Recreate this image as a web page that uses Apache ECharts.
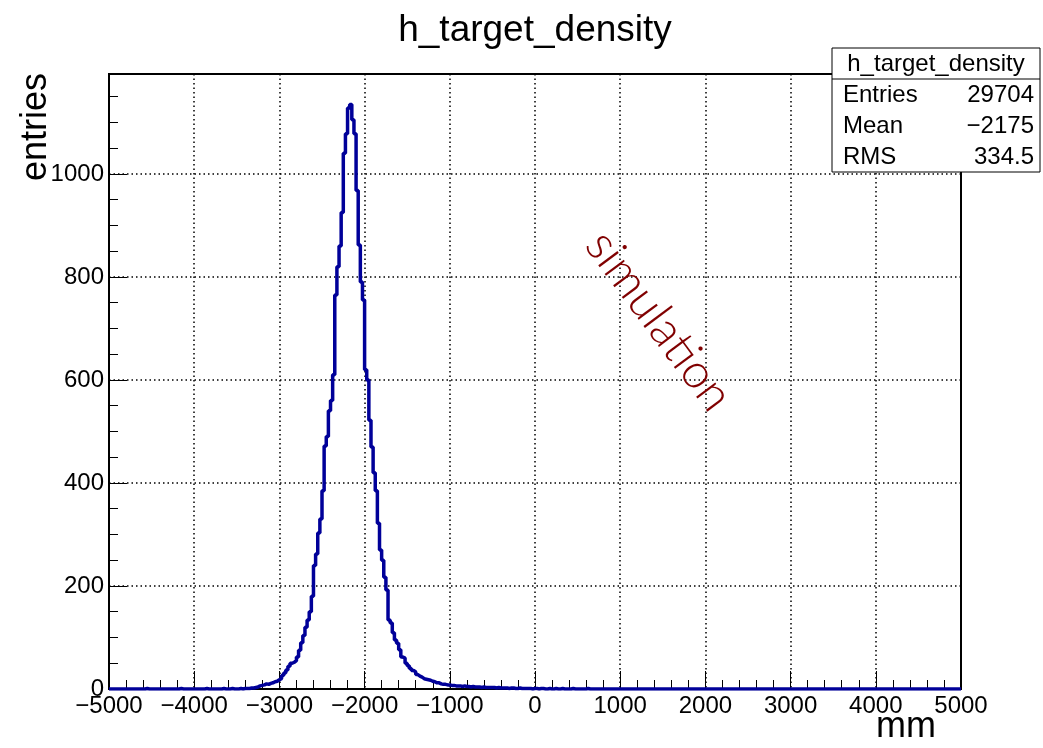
<!DOCTYPE html>
<html>
<head>
<meta charset="utf-8">
<script src="https://cdn.jsdelivr.net/npm/echarts@6/dist/echarts.min.js"></script>
<style>
html,body{margin:0;padding:0;background:#fff;}
#chart{width:1043px;height:748px;}
</style>
</head>
<body>
<div id="chart"></div>
<script>
// ---- data ----
const histTitle = "h_target_density";
const xAxisTitle = "mm";
const yAxisTitle = "entries";
const xMin = -5000, xMax = 5000, binWidth = 25;
const yMax = 1194;
const xTicks = [-5000,-4000,-3000,-2000,-1000,0,1000,2000,3000,4000,5000];
const yTicks = [0,200,400,600,800,1000];
const statsNames = ["Entries","Mean","RMS"];
const statsValues = ["29704","\u22122175","334.5"];
const watermark = "simulation";

// bins -5000 .. -3425
const countsLeft = [
0,0,0,0,0,0,0,0,0,0, 0,0,0,0,0,0,0,1,0,0, 0,0,0,0,0,0,0,0,0,0,
0,0,0,1,0,0,0,0,0,0, 0,0,0,0,0,1,0,0,0,0, 0,0,0,1,0,0,0,1,0,0,
0,1,0,1];
// bins -3400 .. -1025
const countsPeak = [
1,1,2,2,3,4,6,7,8,10, 9,11,12,14,15,18,20,26,31,37,
44,50,52,55,62,75,90,104,120,134, 150,180,240,262,303,330,385,472,490,540,
560,610,765,820,860,925,1040,1078,1128,1135, 1105,1078,968,862,790,755,620,600,522,470,
420,385,322,270,250,217,192,134,128,109, 95,89,76,62,60,50,45,40,36,33,
28,25,23,20,19,18,17,15,14,12, 12,10,9,9,8,8];
// bins -1000 .. 4975
const countsRight = [
7,7,6,6,6,5,6,5,5,4, 5,4,4,4,3,4,3,3,3,3,
3,2,3,2,2,2,2,1,2,2, 1,1,2,1,1,1,1,1,0,1,
1,0,1,1,0,0,1,0,0,1, 0,0,1,0,0,0,0,1,0,0, 0,0,0,0,1,0,0,0,0,0, 0,0,0,0,0,0,0,0,0,0,
0,0,0,0,0,0,0,0,0,0, 0,0,0,0,0,0,0,0,0,0, 0,0,0,0,0,0,0,0,0,0, 0,0,0,0,0,0,0,0,0,0,
0,0,0,0,0,0,0,0,0,0, 0,0,0,0,0,0,0,0,0,0, 0,0,0,0,0,0,0,0,0,0, 0,0,0,0,0,0,0,0,0,0,
0,0,0,0,0,0,0,0,0,0, 0,0,0,0,0,0,0,0,0,0, 0,0,0,0,0,0,0,0,0,0, 0,0,0,0,0,0,0,0,0,0,
0,0,0,0,0,0,0,0,0,0, 0,0,0,0,0,0,0,0,0,0, 0,0,0,0,0,0,0,0,0,0, 0,0,0,0,0,0,0,0,0,0];

const counts = countsLeft.concat(countsPeak, countsRight);
const seriesData = counts.map((c, i) => [xMin + i * binWidth, c]);
seriesData.push([xMin + counts.length * binWidth, counts[counts.length - 1]]);

// ---- chart ----
const FONT = "Liberation Sans";
const chart = echarts.init(document.getElementById('chart'), null, {renderer: 'canvas'});
const fmt = v => String(v).replace('-', '\u2212');

const G = {left: 109, right: 82, top: 74, bottom: 59};

const boxX = 832, boxY = 48, boxW = 208, rowH = 31;

const graphics = [
  {type: 'text', x: 535, y: 12, z: 10,
   style: {text: histTitle, font: '37px "' + FONT + '"', fill: '#000', textAlign: 'center', textVerticalAlign: 'top'}},
  {type: 'text', x: 18, y: 181, rotation: Math.PI / 2, z: 10,
   style: {text: yAxisTitle, font: '36px "' + FONT + '"', fill: '#000', textAlign: 'left', textVerticalAlign: 'top'}},
  {type: 'text', x: 936, y: 745, z: 10,
   style: {text: xAxisTitle, font: '36px "' + FONT + '"', fill: '#000', textAlign: 'right', textVerticalAlign: 'bottom'}},
  {type: 'rect', z: 20, shape: {x: boxX, y: boxY, width: boxW, height: rowH * 4},
   style: {fill: '#fff', stroke: '#000', lineWidth: 1}},
  {type: 'line', z: 21, shape: {x1: boxX, y1: boxY + rowH, x2: boxX + boxW, y2: boxY + rowH},
   style: {stroke: '#000', lineWidth: 1}},
  {type: 'text', z: 22, x: boxX + boxW / 2, y: boxY + rowH / 2 + 1,
   style: {text: histTitle, font: '24px "' + FONT + '"', fill: '#000', textAlign: 'center', textVerticalAlign: 'middle'}},
  {type: 'text', z: 25, x: 659, y: 321, rotation: -0.93,
   style: {text: watermark, font: '300 48px "Lato"', fill: '#800000', textAlign: 'center', textVerticalAlign: 'middle'}}
];
statsNames.forEach((n, i) => {
  graphics.push({type: 'text', z: 22, x: boxX + 11, y: boxY + rowH * (i + 1.5) + 1,
    style: {text: n, font: '24px "' + FONT + '"', fill: '#000', textAlign: 'left', textVerticalAlign: 'middle'}});
  graphics.push({type: 'text', z: 22, x: boxX + boxW - 6, y: boxY + rowH * (i + 1.5) + 1,
    style: {text: statsValues[i], font: '24px "' + FONT + '"', fill: '#000', textAlign: 'right', textVerticalAlign: 'middle'}});
});

const axisCommon = {
  axisLine: {show: true, onZero: false, lineStyle: {color: '#000', width: 2}},
  axisTick: {show: true, inside: true, length: 18, lineStyle: {color: '#000', width: 1}},
  minorTick: {show: true, length: 9, lineStyle: {color: '#000', width: 1}},
  splitLine: {show: true, lineStyle: {color: '#000', width: 1.5, type: [1.5, 3]}},
  minorSplitLine: {show: false}
};

chart.setOption({
  animation: false,
  backgroundColor: '#fff',
  grid: {left: G.left, right: G.right, top: G.top, bottom: G.bottom, show: true,
         borderColor: '#000', borderWidth: 2, backgroundColor: 'transparent'},
  xAxis: Object.assign({
    type: 'value', min: xMin, max: xMax, interval: 1000,
    axisLabel: {fontFamily: FONT, fontSize: 24, color: '#000', margin: 5,
      formatter: v => xTicks.indexOf(v) >= 0 ? fmt(v) : ''}
  }, axisCommon, {minorTick: Object.assign({}, axisCommon.minorTick, {splitNumber: 5})}),
  yAxis: Object.assign({
    type: 'value', min: 0, max: yMax, interval: 200,
    axisLabel: {fontFamily: FONT, fontSize: 24, color: '#000', margin: 5, showMaxLabel: false,
      formatter: v => yTicks.indexOf(v) >= 0 ? fmt(v) : ''}
  }, axisCommon, {minorTick: Object.assign({}, axisCommon.minorTick, {splitNumber: 4})}),
  series: [{
    type: 'line', step: 'end', data: seriesData, showSymbol: false, symbol: 'none',
    lineStyle: {color: '#000099', width: 3.5}, clip: true, z: 5
  }],
  graphic: graphics
});
</script>
</body>
</html>
